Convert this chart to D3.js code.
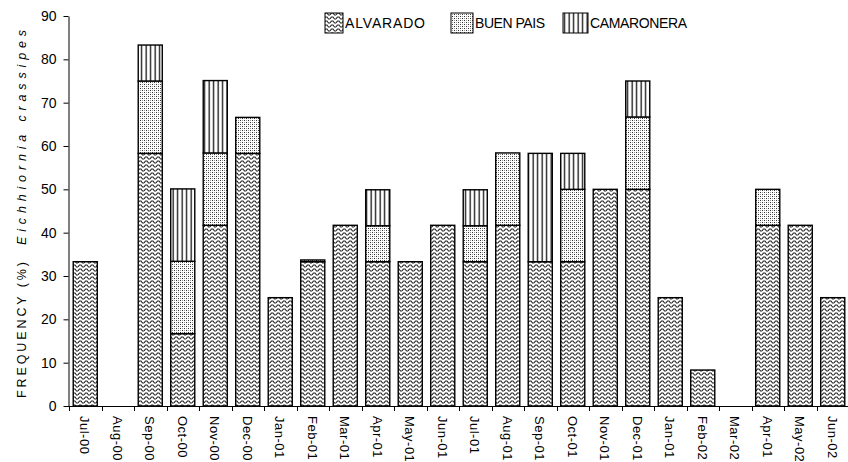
<!DOCTYPE html>
<html>
<head>
<meta charset="utf-8">
<script src="https://cdn.jsdelivr.net/npm/d3@7"></script>
<style>
  html, body { margin: 0; padding: 0; background: #fff; }
  svg { display: block; font-family: "Liberation Sans", Arial, sans-serif; }
</style>
</head>
<body>
<svg id="chart" width="848" height="462"></svg>
<script>
// Monthly frequency (%) of Eichhiornia crassipes at three sites
const months = ["Jul-00","Aug-00","Sep-00","Oct-00","Nov-00","Dec-00","Jan-01","Feb-01","Mar-01","Apr-01","May-01","Jun-01",
                "Jul-01","Aug-01","Sep-01","Oct-01","Nov-01","Dec-01","Jan-01","Feb-02","Mar-02","Apr-01","May-02","Jun-02"];
const alvarado   = [33.3, 0, 58.3, 16.7, 41.7, 58.3, 25, 33.3, 41.7, 33.3, 33.3, 41.7,
                    33.3, 41.7, 33.3, 33.3, 50, 50, 25, 8.3, 0, 41.7, 41.7, 25];
const buenPais   = [0, 0, 16.7, 16.7, 16.7, 8.3, 0, 0.4, 0, 8.3, 0, 0,
                    8.3, 16.7, 0, 16.7, 0, 16.7, 0, 0, 0, 8.3, 0, 0];
const camaronera = [0, 0, 8.3, 16.7, 16.7, 0, 0, 0, 0, 8.3, 0, 0,
                    8.3, 0, 25, 8.3, 0, 8.3, 0, 0, 0, 0, 0, 0];
const seriesNames = ["ALVARADO", "BUEN PAIS", "CAMARONERA"];
const yTicks = [0, 10, 20, 30, 40, 50, 60, 70, 80, 90];

const svg = d3.select("#chart");
const defs = svg.append("defs");

// Wavy hatch (ALVARADO)
const pWave = defs.append("pattern").attr("id", "pat0").attr("patternUnits", "userSpaceOnUse")
  .attr("width", 6).attr("height", 4);
pWave.append("rect").attr("width", 6).attr("height", 4).attr("fill", "#fff");
pWave.append("path").attr("d", "M0,3 L1.5,1 L3,1 L4.5,3 L6,3").attr("fill", "none")
  .attr("stroke", "#222").attr("stroke-width", 1.1);

// Stipple (BUEN PAIS)
const pDot = defs.append("pattern").attr("id", "pat1").attr("patternUnits", "userSpaceOnUse")
  .attr("width", 4).attr("height", 4);
pDot.append("rect").attr("width", 4).attr("height", 4).attr("fill", "#fff");
pDot.append("rect").attr("x", 0).attr("y", 0).attr("width", 1).attr("height", 1).attr("fill", "#333");
pDot.append("rect").attr("x", 2).attr("y", 2).attr("width", 1).attr("height", 1).attr("fill", "#333");
pDot.append("rect").attr("x", 2).attr("y", 0).attr("width", 1).attr("height", 1).attr("fill", "#999");
pDot.append("rect").attr("x", 0).attr("y", 2).attr("width", 1).attr("height", 1).attr("fill", "#999");

// Vertical stripes (CAMARONERA)
const pVert = defs.append("pattern").attr("id", "pat2").attr("patternUnits", "userSpaceOnUse")
  .attr("width", 4.5).attr("height", 4);
pVert.append("rect").attr("width", 4.5).attr("height", 4).attr("fill", "#fff");
pVert.append("rect").attr("x", 1.5).attr("width", 1.3).attr("height", 4).attr("fill", "#111");

const fills = ["url(#pat0)", "url(#pat1)", "url(#pat2)"];

const x = d3.scaleBand().domain(d3.range(months.length)).range([69, 849])
  .paddingInner(0.26).paddingOuter(0.13);
const y = d3.scaleLinear().domain([0, 90]).range([406, 16]);

const table = months.map((m, i) => ({ i, a: alvarado[i], b: buenPais[i], c: camaronera[i] }));
const stack = d3.stack().keys(["a", "b", "c"])(table);

stack.forEach((layer, k) => {
  svg.append("g").selectAll("rect").data(layer.filter(d => d[1] - d[0] > 0)).join("rect")
    .attr("x", d => x(d.data.i))
    .attr("y", d => y(d[1]))
    .attr("width", x.bandwidth())
    .attr("height", d => y(d[0]) - y(d[1]))
    .attr("fill", fills[k])
    .attr("stroke", "#000")
    .attr("stroke-width", 1.4);
});

// Y axis
const yAxis = d3.axisLeft(y).tickValues(yTicks).tickSize(5).tickSizeOuter(0);
const gy = svg.append("g").attr("transform", "translate(68.5,0)").call(yAxis);
gy.selectAll("text").attr("font-size", 14).attr("fill", "#000").attr("dx", "-4")
  .attr("font-family", "'Liberation Sans', Arial, sans-serif");
gy.selectAll("line, path").attr("stroke", "#000");

// X axis: ticks at category boundaries
const step = x.step();
const gx = svg.append("g");
gx.append("line").attr("x1", 68).attr("x2", 848).attr("y1", 406.5).attr("y2", 406.5).attr("stroke", "#000");
gx.selectAll("line.tk").data(d3.range(months.length + 1)).join("line").attr("class", "tk")
  .attr("x1", i => Math.round(69 + i * step) + 0.5).attr("x2", i => Math.round(69 + i * step) + 0.5)
  .attr("y1", 406).attr("y2", 411).attr("stroke", "#000");
gx.selectAll("text").data(months).join("text")
  .attr("transform", (d, i) => `translate(${x(i) + x.bandwidth() / 2 - 5},416) rotate(90)`)
  .attr("font-size", 13).attr("letter-spacing", 0.5).attr("fill", "#000").text(d => d);

// Y axis title
svg.append("text").attr("transform", "translate(26,398) rotate(-90)")
  .attr("font-size", 12.5).attr("textLength", 136).attr("lengthAdjust", "spacing")
  .attr("fill", "#000").text("FREQUENCY (%)");
svg.append("text").attr("transform", "translate(26,245) rotate(-90)")
  .attr("font-size", 12.5).attr("font-style", "italic").attr("textLength", 215).attr("lengthAdjust", "spacing")
  .attr("fill", "#000").text("Eichhiornia crassipes");

// Legend
const legendX = [325, 451, 563];
const legendW = [18, 22, 25];
const legendLen = [80, 70, 97];
const lg = svg.append("g");
seriesNames.forEach((name, k) => {
  lg.append("rect").attr("x", legendX[k]).attr("y", 13).attr("width", legendW[k]).attr("height", 20)
    .attr("fill", fills[k]).attr("stroke", "#000").attr("stroke-width", 1);
  lg.append("text").attr("x", legendX[k] + legendW[k] + 2).attr("y", 28).attr("font-size", 14)
    .attr("textLength", legendLen[k]).attr("lengthAdjust", "spacing").attr("fill", "#000").text(name);
});
</script>
</body>
</html>
